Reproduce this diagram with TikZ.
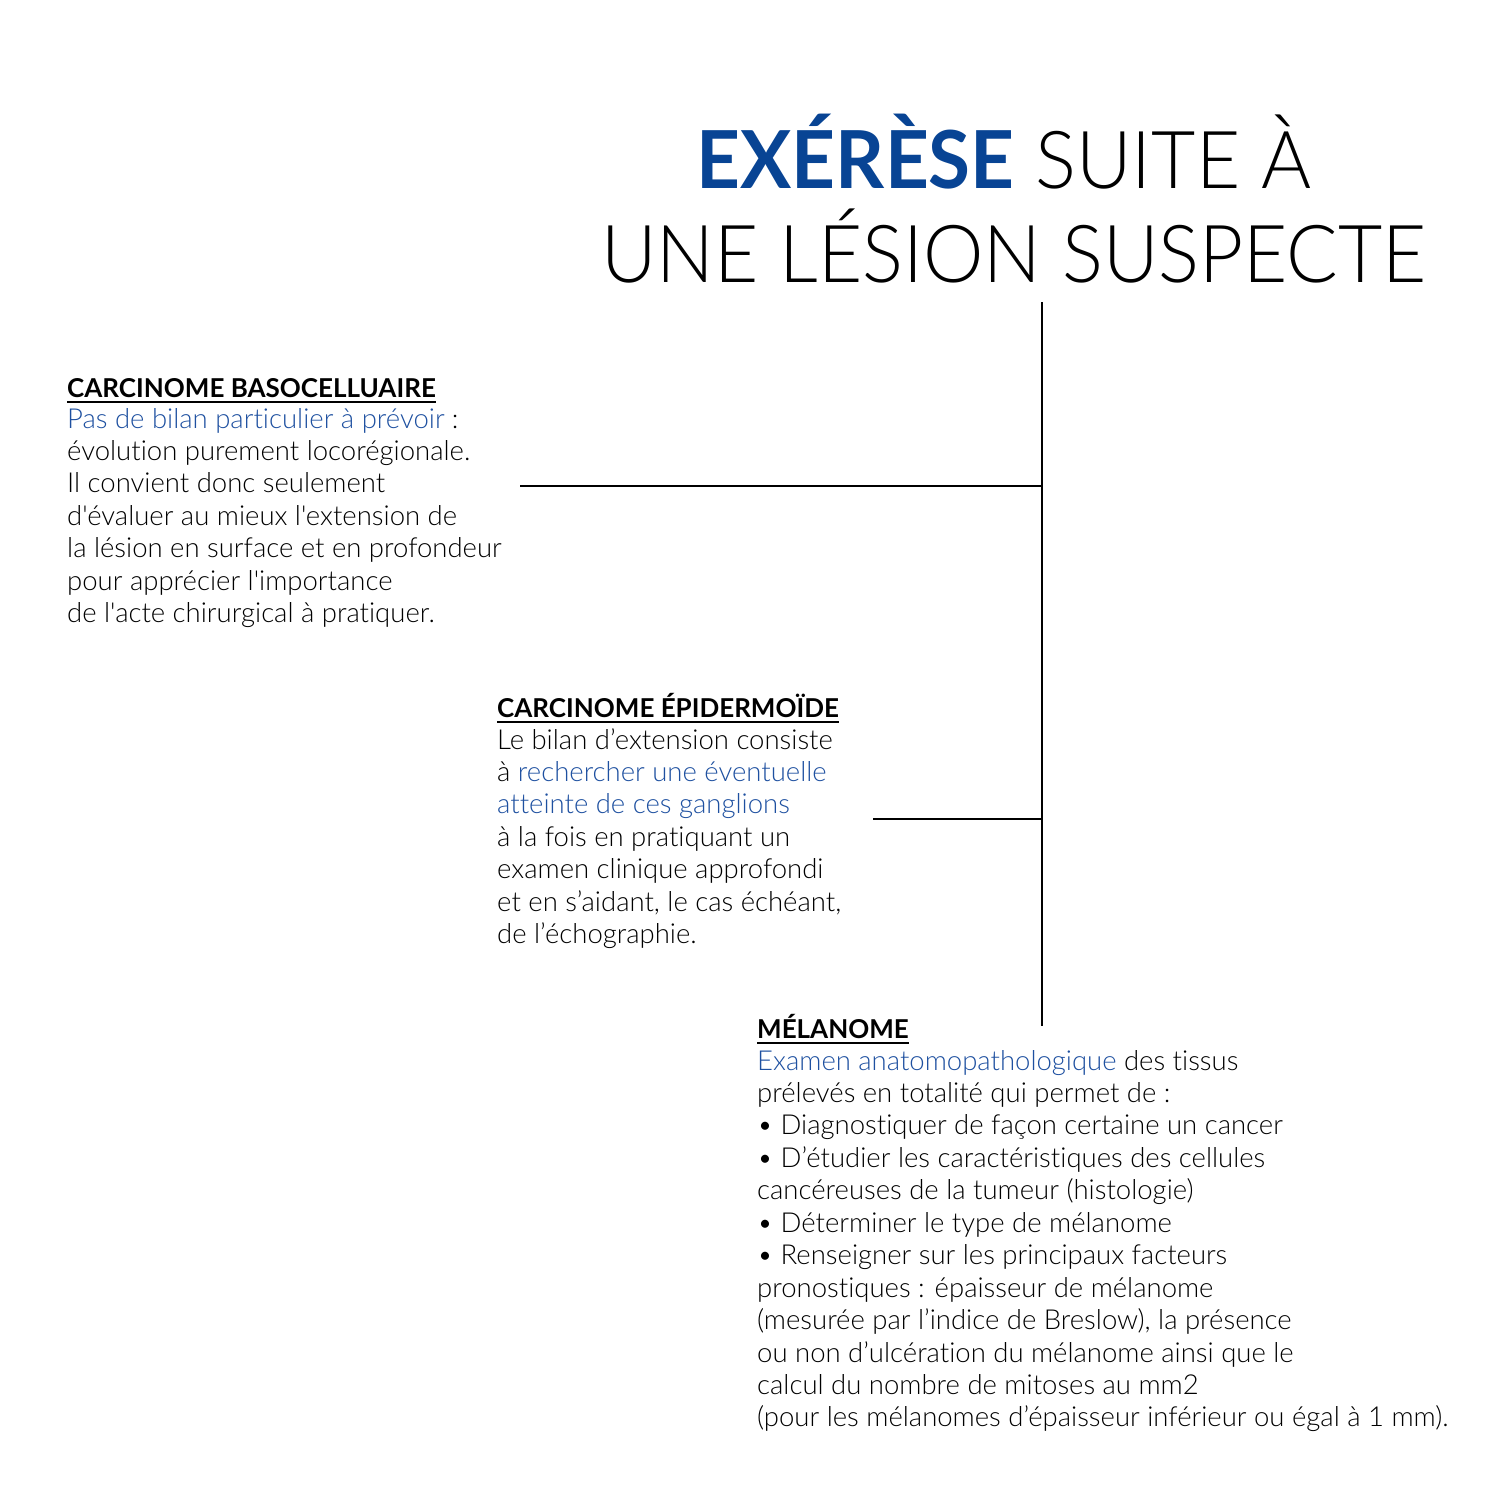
\documentclass[tikz,border=0pt]{standalone}
\usepackage{fontspec}
\setmainfont{Lato Light}[BoldFont={Lato Bold},Ligatures={TeXOff,NoCommon}]
\definecolor{tblue}{RGB}{8,68,148}
\definecolor{bblue}{RGB}{30,80,160}
\newcommand{\blk}[1]{\begin{tabular}[t]{@{}l@{}}#1\end{tabular}}
\begin{document}
\begin{tikzpicture}[x=1pt,y=-1pt,
  body/.style={anchor=base west,inner sep=0pt,font=\fontsize{27.5}{32.45}\selectfont},
  head/.style={anchor=base west,inner sep=0pt,font=\fontsize{26}{32.45}\selectfont\bfseries},
  ttl/.style={anchor=base,inner sep=0pt,font=\fontsize{80}{93}\selectfont},
  uline/.style={line width=2pt},
  link/.style={line width=2.6pt}]
\useasboundingbox (0,0) rectangle (1500,1500);
% title
\node[ttl] (t1) at (1004,188) {\scalebox{0.955}[1]{\textcolor{tblue}{\bfseries EXÉRÈSE} SUITE À}};
\node[ttl] (t2) at (1014,282) {\scalebox{0.955}[1]{UNE LÉSION SUSPECTE}};
% block 1
\node[head] (h1) at (67,397) {CARCINOME BASOCELLUAIRE};
\draw[uline] ([yshift=-5pt]h1.base west) -- ([yshift=-5pt]h1.base east);
\node[body] (b1) at (67,428) {\blk{\textcolor{bblue}{Pas de bilan particulier à prévoir} :\\
évolution purement locorégionale.\\
Il convient donc seulement\\
d'évaluer au mieux l'extension de\\
la lésion en surface et en profondeur\\
pour apprécier l'importance\\
de l'acte chirurgical à pratiquer.}};
% block 2
\node[head] (h2) at (497,717) {CARCINOME ÉPIDERMOÏDE};
\draw[uline] ([yshift=-5pt]h2.base west) -- ([yshift=-5pt]h2.base east);
\node[body] (b2) at (497,749) {\blk{Le bilan d’extension consiste\\
à \textcolor{bblue}{rechercher une éventuelle}\\
\textcolor{bblue}{atteinte de ces ganglions}\\
à la fois en pratiquant un\\
examen clinique approfondi\\
et en s’aidant, le cas échéant,\\
de l’échographie.}};
% block 3
\node[head] (h3) at (757,1038) {MÉLANOME};
\draw[uline] ([yshift=-5pt]h3.base west) -- ([yshift=-5pt]h3.base east);
\node[body] (b3) at (757,1070) {\blk{\textcolor{bblue}{Examen anatomopathologique} des tissus\\
prélevés en totalité qui permet de :\\
• Diagnostiquer de façon certaine un cancer\\
• D’étudier les caractéristiques des cellules\\
cancéreuses de la tumeur (histologie)\\
• Déterminer le type de mélanome\\
• Renseigner sur les principaux facteurs\\
pronostiques : épaisseur de mélanome\\
(mesurée par l’indice de Breslow), la présence\\
ou non d’ulcération du mélanome ainsi que le\\
calcul du nombre de mitoses au mm2\\
(pour les mélanomes d’épaisseur inférieur ou égal à 1 mm).}};
% connectors
\coordinate (vtop) at (1042,302);
\coordinate (vbot) at (1042,1026);
\coordinate (j1) at (1042,486);
\coordinate (e1) at (520,486);
\coordinate (j2) at (1042,819);
\coordinate (e2) at (873,819);
\draw[link] (vtop) -- (vbot);
\draw[link] (e1) -- (j1);
\draw[link] (e2) -- (j2);
\end{tikzpicture}
\end{document}
